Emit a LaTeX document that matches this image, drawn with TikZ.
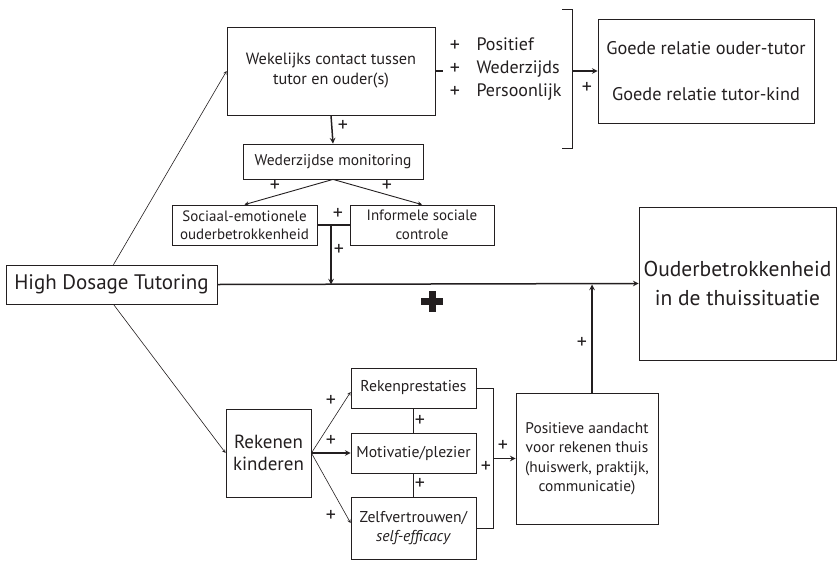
\documentclass[tikz,border=0pt]{standalone}
\usepackage{fontspec}
\setmainfont{PT Sans}
\usetikzlibrary{positioning, arrows}
\definecolor{ink}{RGB}{35,31,32}
\newcommand{\fsz}[2]{\fontsize{#1}{#2}\selectfont}
\tikzset{
	>=stealth, % small filled arrow heads
	x=1pt, y=-1pt, % one unit is one pixel of the model, y runs downwards
	box/.style={draw, line width=0.8pt, align=center, inner sep=1pt}, % every block of the model
	thinline/.style={line width=0.6pt}, % the long arrows and the brackets
	thickline/.style={line width=1.5pt}, % the main paths
	plus/.style={font=\fsz{20}{20}, inner sep=0pt}, % the small + signs
}

\begin{document}
\begin{tikzpicture}[color=ink]
	\useasboundingbox (0,0) rectangle (837,560);
	% blocks
	\node[box, minimum width=211, minimum height=39, font=\fsz{21}{24}] (hdt) at (111.5,284.5) {High Dosage Tutoring};
	\node[box, minimum width=208, minimum height=88, font=\fsz{16.3}{20}] (wek) at (331,71) {Wekelijks contact tussen\\tutor en ouder(s)};
	\node[box, minimum width=216, minimum height=104, font=\fsz{18.3}{46}] (goed) at (706,71) {Goede relatie ouder-tutor\\Goede relatie tutor-kind};
	\node[box, minimum width=180, minimum height=35, font=\fsz{15.5}{17}] (mon) at (333,161.5) {Wederzijdse monitoring};
	\node[box, minimum width=145, minimum height=40, font=\fsz{15}{18.5}] (soc) at (244.5,225) {Sociaal-emotionele\\ouderbetrokkenheid};
	\node[box, minimum width=144, minimum height=40, font=\fsz{15}{18.5}] (inf) at (422,225) {Informele sociale\\controle};
	\node[box, minimum width=197, minimum height=153, font=\fsz{21.5}{29}] (oud) at (737.5,283.5) {Ouderbetrokkenheid\\in de thuissituatie};
	\node[box, minimum width=85, minimum height=88, font=\fsz{19}{22}] (rek) at (268.5,453) {Rekenen\\kinderen};
	\node[box, minimum width=125, minimum height=40, font=\fsz{15.7}{18}] (prest) at (413.5,388) {Rekenprestaties};
	\node[box, minimum width=125, minimum height=40, font=\fsz{15.7}{18}] (mot) at (413.5,453) {Motivatie/plezier};
	\node[box, minimum width=125, minimum height=62, font=\fsz{15.7}{19}] (zelf) at (413.5,528) {Zelfvertrouwen/\\\textit{self-efficacy}};
	\node[box, minimum width=142, minimum height=131, font=\fsz{15.4}{19.5}] (thuis) at (587,458.5) {Positieve aandacht\\voor rekenen thuis\\(huiswerk, praktijk,\\communicatie)};

	% kind of contact, with the bracket
	\node[font=\fsz{20}{23}, align=center] (plusses) at (455,69) {+\\+\\+};
	\node[font=\fsz{18}{23}, align=left, anchor=west] (kenm) at (473,69) {Positief\\Wederzijds\\Persoonlijk};
	\coordinate (brtop) at (572,9);
	\coordinate (brbot) at (572,148);
	\coordinate (brmid) at (brtop |- goed.west);
	\draw[thickline] (wek.east) -- ++(8,0);
	\draw[thinline] ([xshift=-10pt]brtop) -- (brtop) -- (brbot) -- ([xshift=-10pt]brbot);
	\draw[->, thickline] (brmid) -- (goed.west);
	\node[plus] (p1) at (587,88) {+};

	% from the start block
	\draw[->, thinline] ([xshift=2pt]hdt.north) -- (wek.west);
	\draw[->, thinline] ([xshift=2pt]hdt.south) -- (rek.west);
	\draw[->, thickline] (hdt.east) -- (oud.west);
	\fill (421,297.5) rectangle (443,304.5);
	\fill (428.5,290.5) rectangle (435.5,311.5);

	% monitoring
	\draw[->, thickline] (wek.south) -- (mon.north);
	\draw[->, line width=0.9pt] (mon.south) -- (soc.north);
	\draw[->, line width=0.9pt] (mon.south) -- (inf.north);
	\coordinate (jn) at (wek.south |- soc.east);
	\draw[thickline] (soc.east) -- (inf.west);
	\draw[->, thickline] (jn) -- (jn |- hdt.east);
	\node[plus] (p2) at (343,126) {+};
	\node[plus] (p3) at (275,186) {+};
	\node[plus] (p4) at (387,186) {+};
	\node[plus] (p5) at (338,214) {+};
	\node[plus] (p6) at (339,250) {+};

	% arithmetic of the children
	\draw[->, thinline] (rek.east) -- ([yshift=-4pt]prest.west);
	\draw[->, thickline] (rek.east) -- (mot.west);
	\draw[->, thinline] (rek.east) -- ([yshift=5pt]zelf.west);
	\draw[thickline] (prest.south) -- (mot.north);
	\draw[thickline] (mot.south) -- (zelf.north);
	\path (thuis.west) ++(-22,0) coordinate (rb);
	\draw[thinline] (prest.east) -| (rb) |- (zelf.east);
	\draw[->, thickline] (rb) -- (thuis.west);
	\draw[->, thickline] ([xshift=5pt]thuis.north) -- ([xshift=5pt]thuis.north |- hdt.east);
	\node[plus] (p7) at (331,401) {+};
	\node[plus] (p8) at (331,441) {+};
	\node[plus] (p9) at (331,516) {+};
	\node[plus] (p10) at (420,421) {+};
	\node[plus] (p11) at (420,484) {+};
	\node[plus] (p12) at (503,446) {+};
	\node[plus] (p13) at (486,467) {+};
	\node[plus] (p14) at (582,343) {+};
\end{tikzpicture}
\end{document}
